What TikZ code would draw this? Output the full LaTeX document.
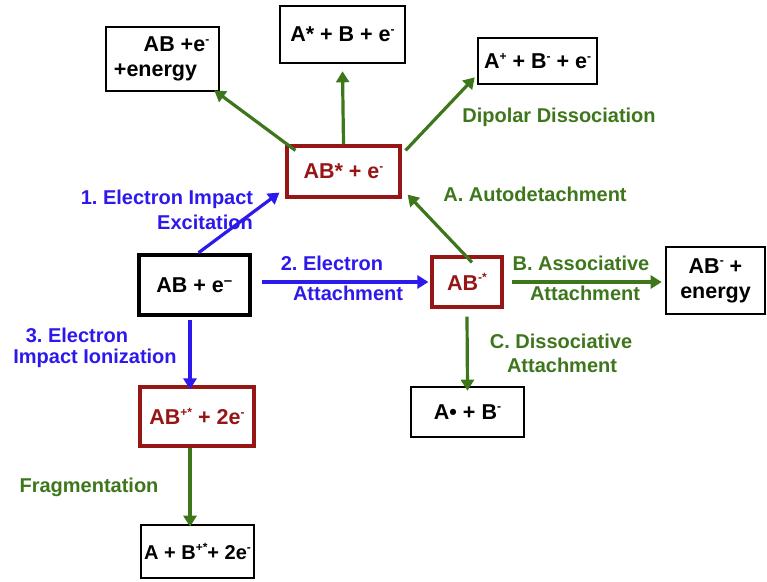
\documentclass[tikz,border=0pt]{standalone}
\usepackage{fontspec}
\setmainfont{Liberation Sans}
\usetikzlibrary{arrows.meta}
\definecolor{cblue}{RGB}{45,25,235}
\definecolor{cgreen}{RGB}{62,118,28}
\definecolor{cred}{RGB}{150,22,22}
\frenchspacing
\newcommand{\mysup}[1]{\raisebox{0.75ex}{\fontsize{12}{12}\selectfont #1}}
\begin{document}
\begin{tikzpicture}[x=1pt,y=-1pt,
  box/.style={draw=black,line width=2.6pt,inner sep=0pt,align=center,font=\fontsize{21.5}{25}\selectfont\bfseries},
  rbox/.style={draw=cred,text=cred,line width=3.2pt,inner sep=0pt,align=center,font=\fontsize{21.5}{25}\selectfont\bfseries},
  lab/.style={font=\fontsize{20}{24}\selectfont\bfseries,align=center,inner sep=0pt},
  blab/.style={lab,text=cblue},
  glab/.style={lab,text=cgreen},
  arr/.style={line width=3.2pt,-{Triangle[length=11pt,width=13pt]}},
  barr/.style={arr,draw=cblue},
  garr/.style={arr,draw=cgreen}]
\useasboundingbox (0,0) rectangle (767,581);
% nodes
\node[box,minimum width=113pt,minimum height=64pt] (en) at (162.5,59) {\hspace*{28pt}AB +e\mysup{-}\\+energy\hspace*{14pt}};
\node[box,minimum width=125pt,minimum height=57pt] (ab) at (342.5,34.5) {A* + B + e\mysup{-}};
\node[box,minimum width=119pt,minimum height=46pt] (dip) at (537.5,61) {A\mysup{+} + B\mysup{-} + e\mysup{-}};
\node[rbox,minimum width=113pt,minimum height=51pt] (exc) at (343.5,171.5) {AB* + e\mysup{-}};
\node[box,line width=4.5pt,minimum width=111pt,minimum height=60pt] (start) at (194.5,285) {AB + e\textsuperscript{\raisebox{-1pt}{–}}};
\node[rbox,minimum width=70pt,minimum height=50pt] (neg) at (467,282) {AB\mysup{-*}};
\node[box,minimum width=99pt,minimum height=67pt] (assoc) at (715.5,280.5) {AB\mysup{-} +\\energy};
\node[rbox,minimum width=114pt,minimum height=59pt] (ion) at (197,416.5) {AB\mysup{+*} + 2e\mysup{-}};
\node[box,minimum width=113pt,minimum height=50pt] (diss) at (467.5,412) {A\textbullet{} + B\mysup{-}};
\node[box,minimum width=113pt,minimum height=53pt,font=\fontsize{20}{24}\selectfont\bfseries] (frag) at (197.5,551.5) {A + B\mysup{+*}+ 2e\mysup{-}};
% connectors
\draw[barr] ([xshift=4pt]start.north) -- ([xshift=-6pt,yshift=6pt]exc.south west);
\draw[garr] (exc.north) -- ([yshift=-7pt]ab.south);
\draw[garr] ([xshift=10pt,yshift=-6pt]exc.north west) -- ([xshift=-6pt,yshift=2pt]en.south east);
\draw[garr] ([xshift=4pt,yshift=-6pt]exc.north east) -- ([xshift=-2pt,yshift=8pt]dip.south west);
\draw[garr] ([xshift=5pt,yshift=-7pt]neg.north) -- ([xshift=6pt,yshift=4pt]exc.south east);
\draw[barr] ([xshift=10pt]start.east|-neg.west) -- ([xshift=-2pt]neg.west);
\draw[garr] ([xshift=8pt]neg.east) -- ([xshift=-3pt]assoc.west|-neg.east);
\draw[garr] ([yshift=-8pt]neg.south) -- ([yshift=-5pt]diss.north);
\draw[barr] ([xshift=-7pt,yshift=-3pt]start.south-|ion.north) -- ([xshift=-7pt,yshift=-4pt]ion.north);
\draw[garr] ([xshift=-7pt]ion.south) -- ([xshift=-7pt,yshift=-3pt]frag.north-|ion.south);
% labels
\node[blab] (l1a) at (167,199) {1. Electron Impact};
\node[blab] (l1b) at (205,222) {Excitation};
\node[blab] (l2a) at (332,263) {2. Electron};
\node[blab] (l2b) at (348,293) {Attachment};
\node[blab] (l3a) at (77,335) {3. Electron};
\node[blab] (l3b) at (95,358) {Impact Ionization};
\node[glab] (ld) at (559,117) {Dipolar Dissociation};
\node[glab] (la) at (535,194) {A. Autodetachment};
\node[glab] (lb1) at (581,263) {B. Associative};
\node[glab] (lb2) at (585,293) {Attachment};
\node[glab] (lc1) at (561,341) {C. Dissociative};
\node[glab] (lc2) at (562,365) {Attachment};
\node[glab] (lf) at (89,487) {Fragmentation};
\end{tikzpicture}
\end{document}
